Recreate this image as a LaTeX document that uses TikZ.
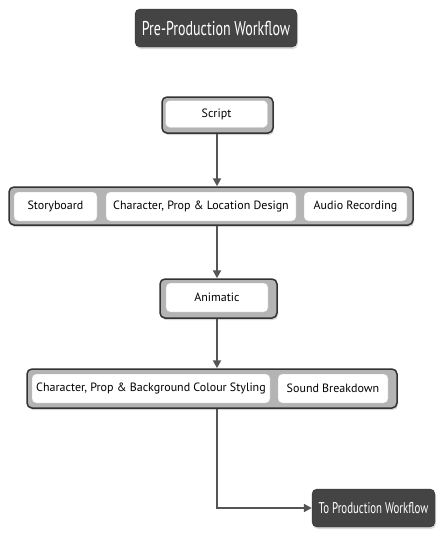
\documentclass[tikz,border=0pt]{standalone}
\usepackage{fontspec}
\setmainfont{PT Sans}
\newfontfamily\condfont[FakeStretch=0.7]{PT Sans}
\usetikzlibrary{shadows,arrows.meta}
\definecolor{fdark}{HTML}{333333}
\definecolor{fmid}{HTML}{656565}
\definecolor{flight}{HTML}{B4B4B4}
\definecolor{titlefill}{HTML}{444444}
\definecolor{arrowgray}{HTML}{555555}
\pgfdeclarehorizontalshading{frameshade}{100bp}{color(0bp)=(fdark); color(6bp)=(fmid); color(14bp)=(flight); color(86bp)=(flight); color(94bp)=(fmid); color(100bp)=(fdark)}
\pgfdeclarehorizontalshading{frameshadew}{100bp}{color(0bp)=(fdark); color(2bp)=(fmid); color(5bp)=(flight); color(95bp)=(flight); color(98bp)=(fmid); color(100bp)=(fdark)}
\tikzset{
  frame/.style={rounded corners=5pt, draw=fdark, line width=1.5pt, shading=frameshade,
    inner sep=0pt, drop shadow={shadow xshift=1pt, shadow yshift=-2pt, fill=gray!45, opacity=.7}},
  wideframe/.style={frame, shading=frameshadew},
  inbox/.style={rounded corners=4pt, draw=gray!50, line width=0.4pt, fill=white,
    inner sep=0pt, font=\fontsize{12}{14}\selectfont, text=black,
    drop shadow={shadow xshift=0.6pt, shadow yshift=-1.4pt, fill=gray!60, opacity=.8}},
  darkbox/.style={rounded corners=5pt, fill=titlefill, draw=fdark, text=white, inner sep=0pt,
    drop shadow={shadow xshift=1pt, shadow yshift=-2pt, fill=gray!40, opacity=.7}},
  flow/.style={draw=arrowgray, line width=2pt, -{Triangle[length=8pt,width=8pt]}}
}
\begin{document}
\begin{tikzpicture}[x=1pt,y=-1pt]
\useasboundingbox[fill=white] (0,0) rectangle (445,538);
% title
\node[darkbox, minimum width=162pt, minimum height=38pt, font=\condfont\fontsize{20}{22}\selectfont] (title) at (216,28) {Pre-Production Workflow};
% script
\node[frame, minimum width=111pt, minimum height=36pt] (script) at (217.5,115) {};
\node[inbox, minimum width=102pt, minimum height=27pt] (scriptin) at (216.5,114) {Script};
% row 1
\node[wideframe, minimum width=404pt, minimum height=38pt] (row1) at (211,206) {};
\node[inbox, minimum width=83pt, minimum height=29pt] (story) at (55.5,206.5) {Storyboard};
\node[inbox, minimum width=190pt, minimum height=29pt] (design) at (201,206.5) {Character, Prop \& Location Design};
\node[inbox, minimum width=103pt, minimum height=29pt] (audio) at (355.5,206.5) {Audio Recording};
% animatic
\node[frame, minimum width=117pt, minimum height=39pt] (anim) at (218.5,298.5) {};
\node[inbox, minimum width=102pt, minimum height=29pt] (animin) at (217,297.5) {Animatic};
% row 2
\node[wideframe, minimum width=370pt, minimum height=39pt] (row2) at (212,388.5) {};
\node[inbox, minimum width=238pt, minimum height=29pt] (colour) at (151,388.5) {Character, Prop \& Background Colour Styling};
\node[inbox, minimum width=110pt, minimum height=29pt] (sound) at (333,388.5) {Sound Breakdown};
% final
\node[darkbox, minimum width=123pt, minimum height=38pt, font=\condfont\fontsize{15.5}{18}\selectfont] (prod) at (373.5,508) {To Production Workflow};
\coordinate (ax) at (217,0);
\coordinate (turn) at (217,508);
% arrows
\draw[flow] (ax |- script.south) -- (ax |- row1.north);
\draw[flow] (ax |- row1.south) -- (ax |- anim.north);
\draw[flow] (ax |- anim.south) -- (ax |- row2.north);
\draw[flow] (ax |- row2.south) -- (turn) -- (prod.west);
\end{tikzpicture}
\end{document}
